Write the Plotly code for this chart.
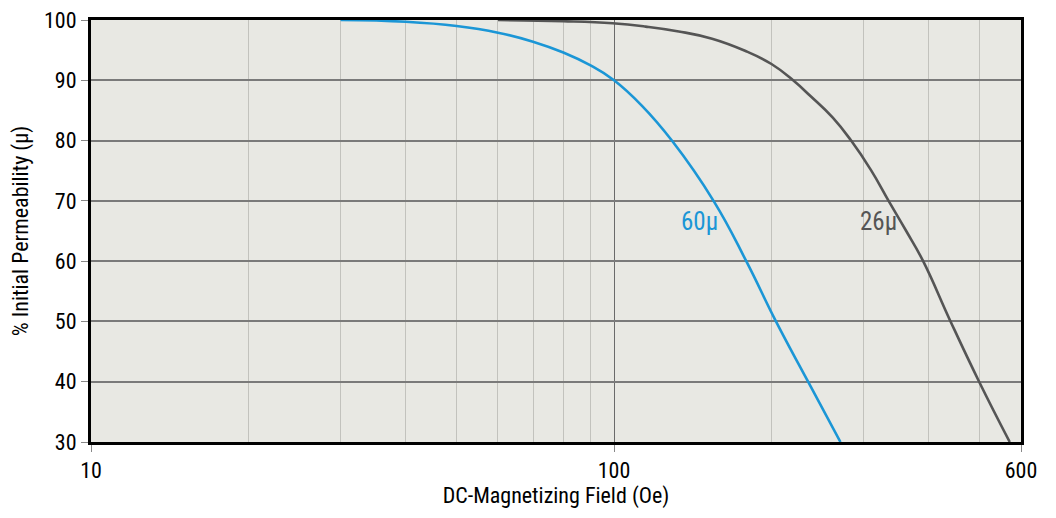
import math
import plotly.graph_objects as go

# Data
field_60u = [30, 40, 50, 60, 70, 80, 90, 100, 113, 129, 155, 179, 204, 235, 271]
perm_60u = [100, 99.7, 99.0, 97.9, 96.4, 94.6, 92.5, 90.0, 85.8, 80, 70, 60, 50, 40, 30]

field_26u = [60, 80, 99.4, 115, 133, 154, 178, 200, 220, 238, 262, 284, 310, 335, 362, 390, 440, 499, 571]
perm_26u = [100, 99.8, 99.45, 98.9, 98.1, 96.9, 94.9, 92.7, 90, 87.3, 83.8, 80, 75.1, 70, 65, 60, 50, 40, 30]

x_major = [10, 100, 600]
x_major_text = ["10", "100", "600"]
x_minor = [20, 30, 40, 50, 60, 70, 80, 90, 200, 300, 400, 500]
y_ticks = [30, 40, 50, 60, 70, 80, 90, 100]

labels = ["60μ", "26μ"]
label_x = [146, 320]
label_y = [66.5, 66.5]

BLUE = "#1b96d6"
DARK = "#555555"
FONT = "Roboto Condensed, Roboto, sans-serif"

fig = go.Figure()
fig.add_trace(go.Scatter(x=field_60u, y=perm_60u, mode="lines",
                         line=dict(color=BLUE, width=2.6, shape="spline", smoothing=1.3),
                         hoverinfo="x+y", showlegend=False))
fig.add_trace(go.Scatter(x=field_26u, y=perm_26u, mode="lines",
                         line=dict(color=DARK, width=2.6, shape="spline", smoothing=1.3),
                         hoverinfo="x+y", showlegend=False))

for txt, lx, ly, col in zip(labels, label_x, label_y, [BLUE, DARK]):
    fig.add_annotation(x=math.log10(lx), y=ly, text=txt, showarrow=False,
                       font=dict(family=FONT, size=25, color=col))

fig.update_layout(
    width=1048, height=510,
    margin=dict(l=83, r=35, t=12, b=76),
    paper_bgcolor="white",
    plot_bgcolor="#e8e8e3",
    font=dict(family=FONT, size=22, color="black"),
    xaxis=dict(
        type="log", range=[1, math.log10(600)],
        tickvals=x_major, ticktext=x_major_text,
        ticks="outside", ticklen=7, tickcolor="#888", tickwidth=1,
        ticklabeloverflow="allow",
        showgrid=True, gridcolor="#6a6a6a", gridwidth=1.3,
        minor=dict(tickvals=x_minor, showgrid=True, gridcolor="#c2c2bd", gridwidth=1.3, ticks=""),
        showline=True, linecolor="black", linewidth=3, mirror=True,
        zeroline=False, automargin=False,
        title=dict(text="DC-Magnetizing Field (Oe)", font=dict(size=22), standoff=6),
    ),
    yaxis=dict(
        range=[30, 100],
        tickvals=y_ticks,
        ticks="outside", ticklen=7, tickcolor="#888", tickwidth=1,
        ticklabeloverflow="allow",
        showgrid=True, gridcolor="#7a7a7a", gridwidth=1.5,
        showline=True, linecolor="black", linewidth=3, mirror=True,
        zeroline=False, automargin=False,
        title=dict(text="% Initial Permeability (μ)", font=dict(size=22), standoff=13),
    ),
)

fig.write_html("out.html")
